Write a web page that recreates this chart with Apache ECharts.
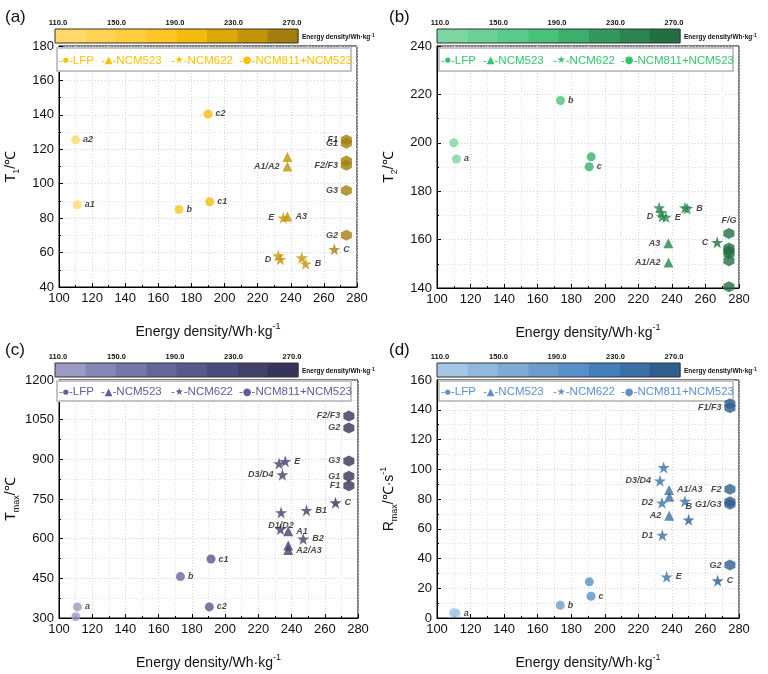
<!DOCTYPE html>
<html><head><meta charset="utf-8">
<script src="https://cdn.jsdelivr.net/npm/echarts@6/dist/echarts.min.js"></script>
<style>html,body{margin:0;padding:0;background:#fff}#c{width:768px;height:674px}</style>
</head><body><div id="c"></div>
<script>
// ---------------- DATA ----------------
// (a) T1
const T1_LFP = [[110,125.5],[111,87.8],[172.5,85],[191,89.5],[190,140.5]];
const T1_LFP_lbl = ['a2','a1','b','c1','c2'];
const T1_NCM523 = [[238,115.5],[238,110],[238,81]];
const T1_NCM523_lbl = ['','A1/A2','A3'];
const T1_NCM622 = [[235.5,80.2],[232.5,58.2],[233.7,56.1],[246.6,57],[249,53.5],[266.3,61.9]];
const T1_NCM622_lbl = ['E','','D','','B','C'];
const T1_NCM811 = [[273.6,125.4],[273.6,123.5],[273.6,113.2],[273.6,110.7],[273.6,96],[273.6,70]];
const T1_NCM811_lbl = ['F1','G1','','F2/F3','G3','G2'];
// (b) T2
const T2_LFP = [[110,200],[111.6,193.3],[173.6,217.5],[191.9,194.2],[190.7,190.1]];
const T2_LFP_lbl = ['','a','b','','c'];
const T2_NCM523 = [[237.9,158.5],[238,150.5]];
const T2_NCM523_lbl = ['A3','A1/A2'];
const T2_NCM622 = [[232.4,173.2],[233.6,171.2],[234.2,169.5],[236.4,169.3],[247.8,173.2],[249.1,172.9],[267,158.9]];
const T2_NCM622_lbl = ['','','D','E','','B','C'];
const T2_NCM811 = [[274,162.5],[274,156.5],[274,155.3],[274,154.2],[274,151.3],[274,140.5]];
const T2_NCM811_lbl = ['F/G','','','','',''];
// (c) Tmax
const TM_LFP = [[111.1,342],[110.1,305],[173.1,456.7],[191.5,523],[190.5,342]];
const TM_LFP_lbl = ['a','','b','c1','c2'];
const TM_NCM523 = [[238,628.5],[238,574],[238,556.7]];
const TM_NCM523_lbl = ['A1','','A2/A3'];
const TM_NCM622 = [[232.5,884],[236.2,892.6],[234.5,841.8],[233.7,698.9],[233.3,635.9],[249,707.4],[247,598.9],[266.5,735.9]];
const TM_NCM622_lbl = ['','E','D3/D4','D1/D2','','B1','B2','C'];
const TM_NCM811 = [[274.5,1064],[274.5,1018.5],[274.5,893.7],[274.5,836],[274.5,800]];
const TM_NCM811_lbl = ['F2/F3','G2','G3','G1','F1'];
// (d) Rmax
const RM_LFP = [[109.8,3.5],[111.4,3.3],[173.5,8.5],[191.8,14.6],[190.8,24.3]];
const RM_LFP_lbl = ['','a','b','c',''];
const RM_NCM523 = [[238.3,86.1],[238.5,81.5],[238.4,68.7]];
const RM_NCM523_lbl = ['A1/A3','','A2'];
const RM_NCM622 = [[235.1,101.2],[232.9,92.2],[234.1,77.4],[247.8,78.5],[250,66],[234.3,55.7],[236.9,27.7],[267.3,25.1]];
const RM_NCM622_lbl = ['','D3/D4','D2','','B','D1','E','C'];
const RM_NCM811 = [[274.6,144.1],[274.6,141.4],[274.6,86.6],[274.6,78.2],[274.6,76.5],[274.6,35.6]];
const RM_NCM811_lbl = ['','F1/F3','F2','','G1/G3','G2'];

const groupNames = ['LFP','NCM523','NCM622','NCM811+NCM523'];
const colorbarTicks = ['110.0','150.0','190.0','230.0','270.0'];
const colorbarBreaks = [110,130,150,170,190,210,230,250,270];
const yRanges = [[40,180,20],[140,240,20],[300,1200,150],[0,160,20]];
const yNames = ['T{sub|1}/℃','T{sub|2}/℃','T{sub|max}/℃','R{sub|max}/℃·s{sup|-1}'];
const panelTags = ['(a)','(b)','(c)','(d)'];

// ---------------- STYLE ----------------
const FONT = '"Liberation Sans", Arial, sans-serif';
const palettes = [
  ['#FFD86B','#FFD454','#FFCD3C','#FFC524','#F5BB0B','#DDA806','#C29406','#A47F0E'],
  ['#7DD6A0','#6CD094','#5ACA88','#46C27A','#3AB06B','#33985D','#2C8550','#236E42'],
  ['#9A9AC2','#8787B5','#7676A8','#66669B','#58588C','#4C4C7C','#41416B','#35355A'],
  ['#A6C6E5','#92B8DD','#7FAAD5','#6B9CCD','#5890C9','#437FBD','#3A70A8','#305E90']
];
const legendColors = ['#FFC000','#33C46E','#5E5E9C','#5B92CB'];
const grids = [
  {left:55, top:46, width:302, height:241},
  {left:437, top:46, width:302, height:242},
  {left:55, top:380, width:303, height:243},
  {left:437, top:380, width:302, height:244}
];
const STAR = 'path://M50,0 L61.8,35.1 L98.1,35.1 L68.8,56.7 L79.4,91 L50,70 L20.6,91 L31.2,56.7 L1.9,35.1 L38.2,35.1 Z';
const HEX = 'path://M50,0 L93.3,25 L93.3,75 L50,100 L6.7,75 L6.7,25 Z';
const symbols = ['circle','triangle',STAR,HEX];
const symSizes = [9,10,12,11];
// label placement per panel
const sides = [
  {'A1/A2':'left','E':'left','D':'left','F1':'left','G1':'left','F2/F3':'left','G3':'left','G2':'left'},
  {'A3':'left','A1/A2':'left','D':'left','C':'left','F/G':'top'},
  {'D3/D4':'left','D1/D2':'bottom','F2/F3':'left','G2':'left','G3':'left','G1':'left','F1':'left'},
  {'D3/D4':'left','D2':'left','B':'top','D1':'left','A2':'left','F1/F3':'left','F2':'left','G1/G3':'left','G2':'left'}
];

const panelData = [
  [[T1_LFP,T1_LFP_lbl],[T1_NCM523,T1_NCM523_lbl],[T1_NCM622,T1_NCM622_lbl],[T1_NCM811,T1_NCM811_lbl]],
  [[T2_LFP,T2_LFP_lbl],[T2_NCM523,T2_NCM523_lbl],[T2_NCM622,T2_NCM622_lbl],[T2_NCM811,T2_NCM811_lbl]],
  [[TM_LFP,TM_LFP_lbl],[TM_NCM523,TM_NCM523_lbl],[TM_NCM622,TM_NCM622_lbl],[TM_NCM811,TM_NCM811_lbl]],
  [[RM_LFP,RM_LFP_lbl],[RM_NCM523,RM_NCM523_lbl],[RM_NCM622,RM_NCM622_lbl],[RM_NCM811,RM_NCM811_lbl]]
];

const richSS = {
  sub:{fontSize:9, lineHeight:9, verticalAlign:'bottom', fontFamily:FONT, color:'#111'},
  sup:{fontSize:9, lineHeight:9, verticalAlign:'top', fontFamily:FONT, color:'#111'}
};

const xAxes = [], yAxes = [], series = [], visualMaps = [], graphics = [];
grids.forEach((g, p) => {
  const common = {
    gridIndex:p, nameLocation:'middle',
    nameTextStyle:{fontSize:14, lineHeight:20, color:'#111', fontFamily:FONT, rich:richSS},
    axisLine:{show:true, onZero:false, lineStyle:{color:'#000', width:1}},
    axisTick:{show:true, inside:true, length:4, lineStyle:{color:'#000'}},
    minorTick:{show:true, splitNumber:2, length:2, lineStyle:{color:'#000'}},
    axisLabel:{fontSize:13, color:'#111', fontFamily:FONT, margin:5, formatter:(v)=>String(v)},
    splitLine:{show:true, lineStyle:{color:'#d4d4d4', type:[1,2]}},
    minorSplitLine:{show:true, lineStyle:{color:'#e0e0e0', type:[1,2]}}
  };
  xAxes.push(Object.assign({}, common, {type:'value', min:100, max:280, interval:20,
    name:'Energy density/Wh·kg{sup|-1}', nameGap:35}));
  yAxes.push(Object.assign({}, common, {type:'value', min:yRanges[p][0], max:yRanges[p][1], interval:yRanges[p][2],
    name:yNames[p], nameGap:38}));
  const idx = [];
  panelData[p].forEach((gd, k) => {
    idx.push(series.length);
    const [pts, lbls] = gd;
    series.push({
      type:'scatter', name:groupNames[k], xAxisIndex:p, yAxisIndex:p, z:5,
      symbol:symbols[k], symbolSize:symSizes[k],
      data: pts.map((v,i) => {
        const nm = lbls[i] || '';
        return {value:v, name:nm, label:{position:(sides[p][nm] || 'right')}};
      }),
      label:{show:true, formatter:'{b}', fontSize:9, fontWeight:'bold', fontStyle:'italic',
        color:'#1a1a1a', fontFamily:FONT, distance:3},
      emphasis:{disabled:true}
    });
  });
  const pal = palettes[p];
  const pieces = pal.map((c,i) => {
    const o = {color:c};
    if (i > 0) o.gte = colorbarBreaks[i];
    if (i < pal.length-1) o.lt = colorbarBreaks[i+1];
    return o;
  });
  visualMaps.push({type:'piecewise', show:false, dimension:0, seriesIndex:idx, pieces:pieces});

  // colour bar
  const bx = g.left, by = g.top - 17, bw = 243, bh = 14;
  const bw1 = bw / pal.length;
  pal.forEach((c,i) => graphics.push({type:'rect', shape:{x:bx + i*bw1, y:by, width:bw1+0.5, height:bh},
    style:{fill:c}, silent:true}));
  graphics.push({type:'rect', shape:{x:bx, y:by, width:bw, height:bh}, style:{fill:'none', stroke:'#333', lineWidth:1}, silent:true});
  colorbarTicks.forEach((t,i) => graphics.push({type:'text', x:bx + 3 + i*(bw-9)/4, y:by - 6,
    style:{text:t, fontSize:7.5, fontWeight:'bold', fontFamily:FONT, fill:'#111', align:'center', verticalAlign:'middle'}}));
  graphics.push({type:'text', x:bx + bw + 4, y:by + bh/2 + 1,
    style:{text:'Energy density/Wh·kg{s|-1}', fontSize:6.5, fontWeight:'bold', fontFamily:FONT, fill:'#111',
      verticalAlign:'middle', rich:{s:{fontSize:5, fontWeight:'bold', verticalAlign:'top', lineHeight:5, fontFamily:FONT, fill:'#111'}}}});
  // legend box
  const lx = g.left + 2, ly = g.top + (p < 2 ? 2 : 1), lh = (p < 2 ? 23 : 20);
  graphics.push({type:'rect', shape:{x:lx, y:ly, width:294, height:lh},
    style:{fill:'#fff', stroke:'#c4c4c4', lineWidth:2}, z:3});
  const lcol = legendColors[p];
  const marks = ['●','▲','★','●'];
  const offs = [2, 44, 114, 182];
  groupNames.forEach((nm,k) => graphics.push({type:'text', x:lx + offs[k], y:ly + lh/2 + 1, z:4,
    style:{text:'-{m|' + marks[k] + '}-' + nm, fontSize:11.5, fontFamily:FONT, fill:lcol, verticalAlign:'middle',
      rich:{m:{fontSize:(k===0?7:(k===3?10:10)), fill:lcol, fontFamily:'"DejaVu Sans", sans-serif', verticalAlign:'middle'}}}}));
  // panel tag
  graphics.push({type:'text', x:(p%2===0 ? 5 : 389), y:(p<2 ? 17 : 350),
    style:{text:panelTags[p], fontSize:17, fontFamily:FONT, fill:'#111', verticalAlign:'middle'}});
});

const chart = echarts.init(document.getElementById('c'), null, {renderer:'canvas'});
chart.setOption({
  backgroundColor:'#fff',
  animation:false,
  grid: grids.map(g => Object.assign({show:true, borderColor:'#000', borderWidth:1, backgroundColor:'transparent'}, g)),
  xAxis:xAxes, yAxis:yAxes, visualMap:visualMaps, series:series, graphic:graphics
});
</script></body></html>
